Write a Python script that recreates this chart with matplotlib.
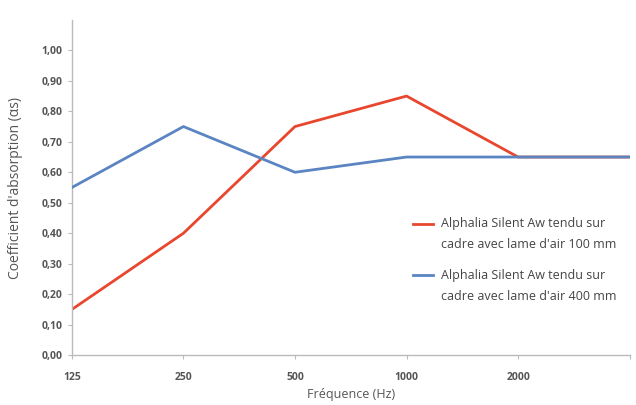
import matplotlib
matplotlib.use("Agg")
import matplotlib.pyplot as plt

categories = ["125", "250", "500", "1000", "2000", ""]
red_values = [0.15, 0.40, 0.75, 0.85, 0.65, 0.65]
blue_values = [0.55, 0.75, 0.60, 0.65, 0.65, 0.65]
red_label = "Alphalia Silent Aw tendu sur\ncadre avec lame d'air 100 mm"
blue_label = "Alphalia Silent Aw tendu sur\ncadre avec lame d'air 400 mm"
yticks = [0.0, 0.1, 0.2, 0.3, 0.4, 0.5, 0.6, 0.7, 0.8, 0.9, 1.0]
ytick_labels = ["0,00", "0,10", "0,20", "0,30", "0,40", "0,50", "0,60", "0,70", "0,80", "0,90", "1,00"]

plt.rcParams['font.family'] = ['Open Sans', 'DejaVu Sans']

fig = plt.figure(figsize=(6.36, 4.05), dpi=100)
ax = fig.add_axes([0.113, 0.123, 0.877, 0.828])

x = list(range(len(categories)))
ax.plot(x, red_values, color="#e8472e", lw=2.0, label=red_label, zorder=2)
ax.plot(x, blue_values, color="#5b85c2", lw=2.0, label=blue_label, zorder=3)

ax.set_xlim(0, 5)
ax.set_ylim(0, 1.1)
ax.set_xticks(x)
ax.set_xticklabels(categories, fontsize=7.5, fontweight="bold", color="#555555")
ax.set_yticks(yticks)
ax.set_yticklabels(ytick_labels, fontsize=7.5, fontweight="bold", color="#555555")
ax.tick_params(axis="both", length=3, color="#bbbbbb")
ax.tick_params(axis="x", pad=9)
ax.tick_params(axis="y", pad=4)
for s in ["top", "right"]:
    ax.spines[s].set_visible(False)
for s in ["left", "bottom"]:
    ax.spines[s].set_color("#bbbbbb")
    ax.spines[s].set_linewidth(1.0)

ax.set_xlabel("Fréquence (Hz)", fontsize=9, color="#555555", labelpad=4)
ax.set_ylabel("Coefficient d'absorption (αs)", fontsize=10, color="#555555")
ax.yaxis.set_label_coords(-0.088, 0.5)

leg = ax.legend(loc="upper left", bbox_to_anchor=(0.632, 0.491), bbox_transform=fig.transFigure,
                frameon=False, fontsize=9, handlelength=1.6, handletextpad=0.6,
                labelspacing=1.4, labelcolor="#444444")
for t in leg.get_texts():
    t.set_linespacing(1.8)
for h in leg.legend_handles:
    h.set_ydata([v + 8.0 for v in h.get_ydata()])

fig.savefig("out.png", dpi=100)
